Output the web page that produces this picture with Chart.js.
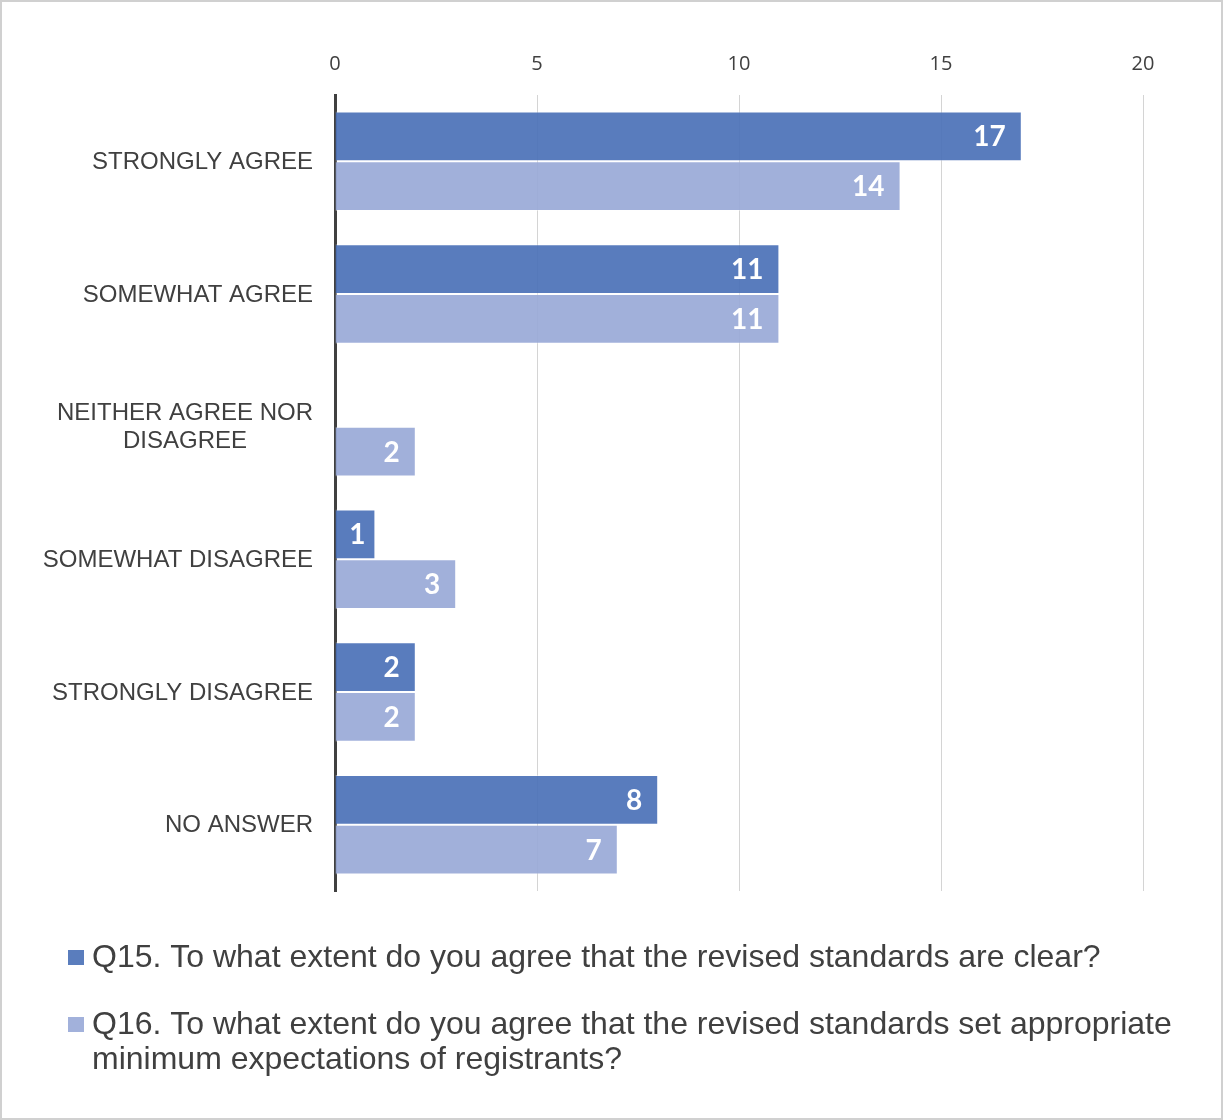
<!DOCTYPE html>
<html>
<head>
<meta charset="utf-8">
<script src="https://cdn.jsdelivr.net/npm/chart.js@4"></script>
<style>
  html, body { margin: 0; padding: 0; background: #ffffff; }
  #wrap { width: 1223px; height: 1120px; position: relative; }
</style>
</head>
<body>
<div id="wrap"><canvas id="chart" width="1223" height="1120"></canvas></div>
<script>
// Survey responses, one entry per answer option
const categories = [
  'STRONGLY AGREE',
  'SOMEWHAT AGREE',
  ['NEITHER AGREE NOR', 'DISAGREE'],
  'SOMEWHAT DISAGREE',
  'STRONGLY DISAGREE',
  'NO ANSWER'
];
const seriesNames = [
  'Q15. To what extent do you agree that the revised standards are clear?',
  'Q16. To what extent do you agree that the revised standards set appropriate minimum expectations of registrants?'
];
const q15Values = [17, 11, 0, 1, 2, 8];
const q16Values = [14, 11, 2, 3, 2, 7];
const xTicks = [0, 5, 10, 15, 20];

const TEXT = '#404040';
const COL_Q15 = 'rgba(76,114,184,0.93)';
const COL_Q16 = 'rgba(154,170,215,0.93)';
const SWATCH_Q15 = '#5a7dbd';
const SWATCH_Q16 = '#a2b1db';

// White value labels inside the end of each bar (centred when the bar is short)
const valueLabels = {
  id: 'valueLabels',
  afterDatasetsDraw(chart) {
    const ctx = chart.ctx;
    ctx.save();
    ctx.font = 'bold 28px Lato, "Open Sans", sans-serif';
    ctx.fillStyle = '#ffffff';
    ctx.textBaseline = 'middle';
    chart.data.datasets.forEach((ds, di) => {
      const meta = chart.getDatasetMeta(di);
      meta.data.forEach((bar, i) => {
        const v = ds.data[i];
        if (!v) return;
        const len = bar.x - bar.base;
        if (len < 50) {
          ctx.textAlign = 'center';
          ctx.fillText(String(v), (bar.x + bar.base) / 2 + 2, bar.y + 1);
        } else {
          ctx.textAlign = 'right';
          ctx.fillText(String(v), bar.x - 16, bar.y + 1);
        }
      });
    });
    ctx.restore();
  }
};

// Category labels: right-aligned block, multi-line labels centred within the block
const categoryLabels = {
  id: 'categoryLabels',
  afterDraw(chart) {
    const ctx = chart.ctx;
    const yScale = chart.scales.y;
    const right = 313;
    const lh = 28;
    ctx.save();
    ctx.font = '24px "Liberation Sans", Arial, sans-serif';
    ctx.fillStyle = TEXT;
    ctx.textBaseline = 'middle';
    ctx.textAlign = 'center';
    chart.data.labels.forEach((lab, i) => {
      const lines = Array.isArray(lab) ? lab : [lab];
      const w = Math.max(...lines.map(l => ctx.measureText(l).width));
      const cx = right - w / 2;
      const cy = yScale.getPixelForValue(i);
      const y0 = cy - (lines.length - 1) * lh / 2;
      lines.forEach((l, k) => ctx.fillText(l, cx, y0 + k * lh + 1));
    });
    ctx.restore();
  }
};

// Legend under the plot, with wrapping text and square swatches
const bottomLegend = {
  id: 'bottomLegend',
  afterDraw(chart) {
    const ctx = chart.ctx;
    const swatches = [SWATCH_Q15, SWATCH_Q16];
    const textX = 92;
    const maxW = 1110;
    const lh = 35;
    let y = 958;
    ctx.save();
    ctx.font = '32px "Liberation Sans", Arial, sans-serif';
    ctx.textBaseline = 'middle';
    ctx.textAlign = 'left';
    chart.data.datasets.forEach((ds, di) => {
      ctx.fillStyle = swatches[di];
      ctx.fillRect(68, y - 8, 16, 15);
      const words = ds.label.split(' ');
      const lines = [];
      let cur = '';
      words.forEach(wd => {
        const test = cur ? cur + ' ' + wd : wd;
        if (ctx.measureText(test).width > maxW && cur) {
          lines.push(cur);
          cur = wd;
        } else {
          cur = test;
        }
      });
      lines.push(cur);
      ctx.fillStyle = TEXT;
      lines.forEach((l, k) => ctx.fillText(l, textX, y + k * lh));
      y += lines.length * lh + 32;
    });
    // light frame around the whole figure
    ctx.strokeStyle = '#d0d0d0';
    ctx.lineWidth = 2;
    ctx.strokeRect(1, 1, chart.width - 2, chart.height - 2);
    ctx.restore();
  }
};

new Chart(document.getElementById('chart'), {
  type: 'bar',
  data: {
    labels: categories,
    datasets: [
      {
        label: seriesNames[0],
        data: q15Values,
        backgroundColor: COL_Q15,
        borderColor: 'rgba(255,255,255,0.4)',
        borderWidth: 1
      },
      {
        label: seriesNames[1],
        data: q16Values,
        backgroundColor: COL_Q16,
        borderColor: 'rgba(255,255,255,0.4)',
        borderWidth: 1
      }
    ]
  },
  options: {
    indexAxis: 'y',
    responsive: false,
    animation: false,
    layout: { padding: { left: 0, right: 80, top: 0, bottom: 229 } },
    datasets: { bar: { categoryPercentage: 0.75, barPercentage: 1.0 } },
    plugins: {
      legend: { display: false },
      tooltip: { enabled: false }
    },
    scales: {
      x: {
        position: 'top',
        min: 0,
        max: 20,
        afterBuildTicks(scale) { scale.ticks = xTicks.map(v => ({ value: v })); },
        afterFit(scale) { scale.height = 95; },
        grid: { color: '#d4d4d4', lineWidth: 1, drawTicks: false },
        border: { display: false },
        ticks: {
          padding: 19,
          color: TEXT,
          font: { family: '"Open Sans", sans-serif', size: 20 }
        }
      },
      y: {
        afterFit(scale) { scale.width = 335; },
        grid: { drawOnChartArea: false, drawTicks: false },
        border: { display: true, color: '#404040', width: 3 },
        ticks: { display: false }
      }
    }
  },
  plugins: [valueLabels, categoryLabels, bottomLegend]
});
</script>
</body>
</html>
